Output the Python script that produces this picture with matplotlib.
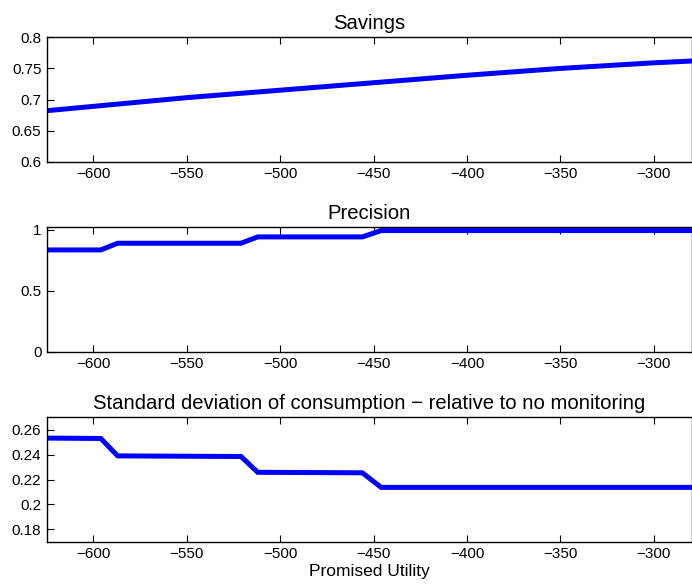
import numpy as np
import matplotlib.pyplot as plt

plt.rcParams['font.family'] = ['Liberation Sans', 'DejaVu Sans']

# promised utility grid
u_sav = [-625, -600, -550, -500, -450, -400, -350, -300, -279]
savings = [0.682, 0.689, 0.703, 0.715, 0.727, 0.739, 0.750, 0.759, 0.762]

u_step = [-625, -596, -587, -521, -512, -456, -446, -279]
precision = [0.836, 0.836, 0.891, 0.891, 0.943, 0.943, 0.995, 0.995]
std_cons = [0.2533, 0.2530, 0.2390, 0.2385, 0.2258, 0.2254, 0.2137, 0.2137]

sav_ticks = [0.6, 0.65, 0.7, 0.75, 0.8]
prec_ticks = [0, 0.5, 1]
std_ticks = [0.18, 0.2, 0.22, 0.24, 0.26]
x_ticks = [-600, -550, -500, -450, -400, -350, -300]

fig = plt.figure(figsize=(6.92, 5.84), dpi=100)
left = 47 / 692
width = 1 - left
h = 124.4 / 584
ax1 = fig.add_axes([left, 0.7231, width, h])
ax2 = fig.add_axes([left, 0.3978, width, h])
ax3 = fig.add_axes([left, 0.0724, width, h])


def style(ax, ticks, labels, ylim, title):
    ax.set_xlim(-624.8, -279.6)
    ax.set_ylim(*ylim)
    ax.set_xticks(x_ticks)
    ax.set_xticklabels([str(t) if t >= 0 else '\u2212' + str(-t) for t in x_ticks])
    ax.set_yticks(ticks)
    ax.set_yticklabels(labels)
    ax.tick_params(direction='in', length=5, width=0.8, labelsize=11,
                   top=True, right=False, pad=4)
    for s in ax.spines.values():
        s.set_linewidth(1.0)
    ax.set_title(title, fontsize=14.6, pad=6)


ax1.plot(u_sav, savings, color='#0000ff', lw=3.6, solid_joinstyle='miter')
style(ax1, sav_ticks, ['0.6', '0.65', '0.7', '0.75', '0.8'], (0.6, 0.8), 'Savings')

ax2.plot(u_step, precision, color='#0000ff', lw=3.6, solid_joinstyle='miter')
style(ax2, prec_ticks, ['0', '0.5', '1'], (0, 1.022), 'Precision')

ax3.plot(u_step, std_cons, color='#0000ff', lw=3.6, solid_joinstyle='miter')
style(ax3, std_ticks, ['0.18', '0.2', '0.22', '0.24', '0.26'], (0.17, 0.27),
      'Standard deviation of consumption \u2212 relative to no monitoring')
ax3.set_xlabel('Promised Utility', fontsize=12.5, labelpad=2)

fig.savefig('out.png', dpi=100)
